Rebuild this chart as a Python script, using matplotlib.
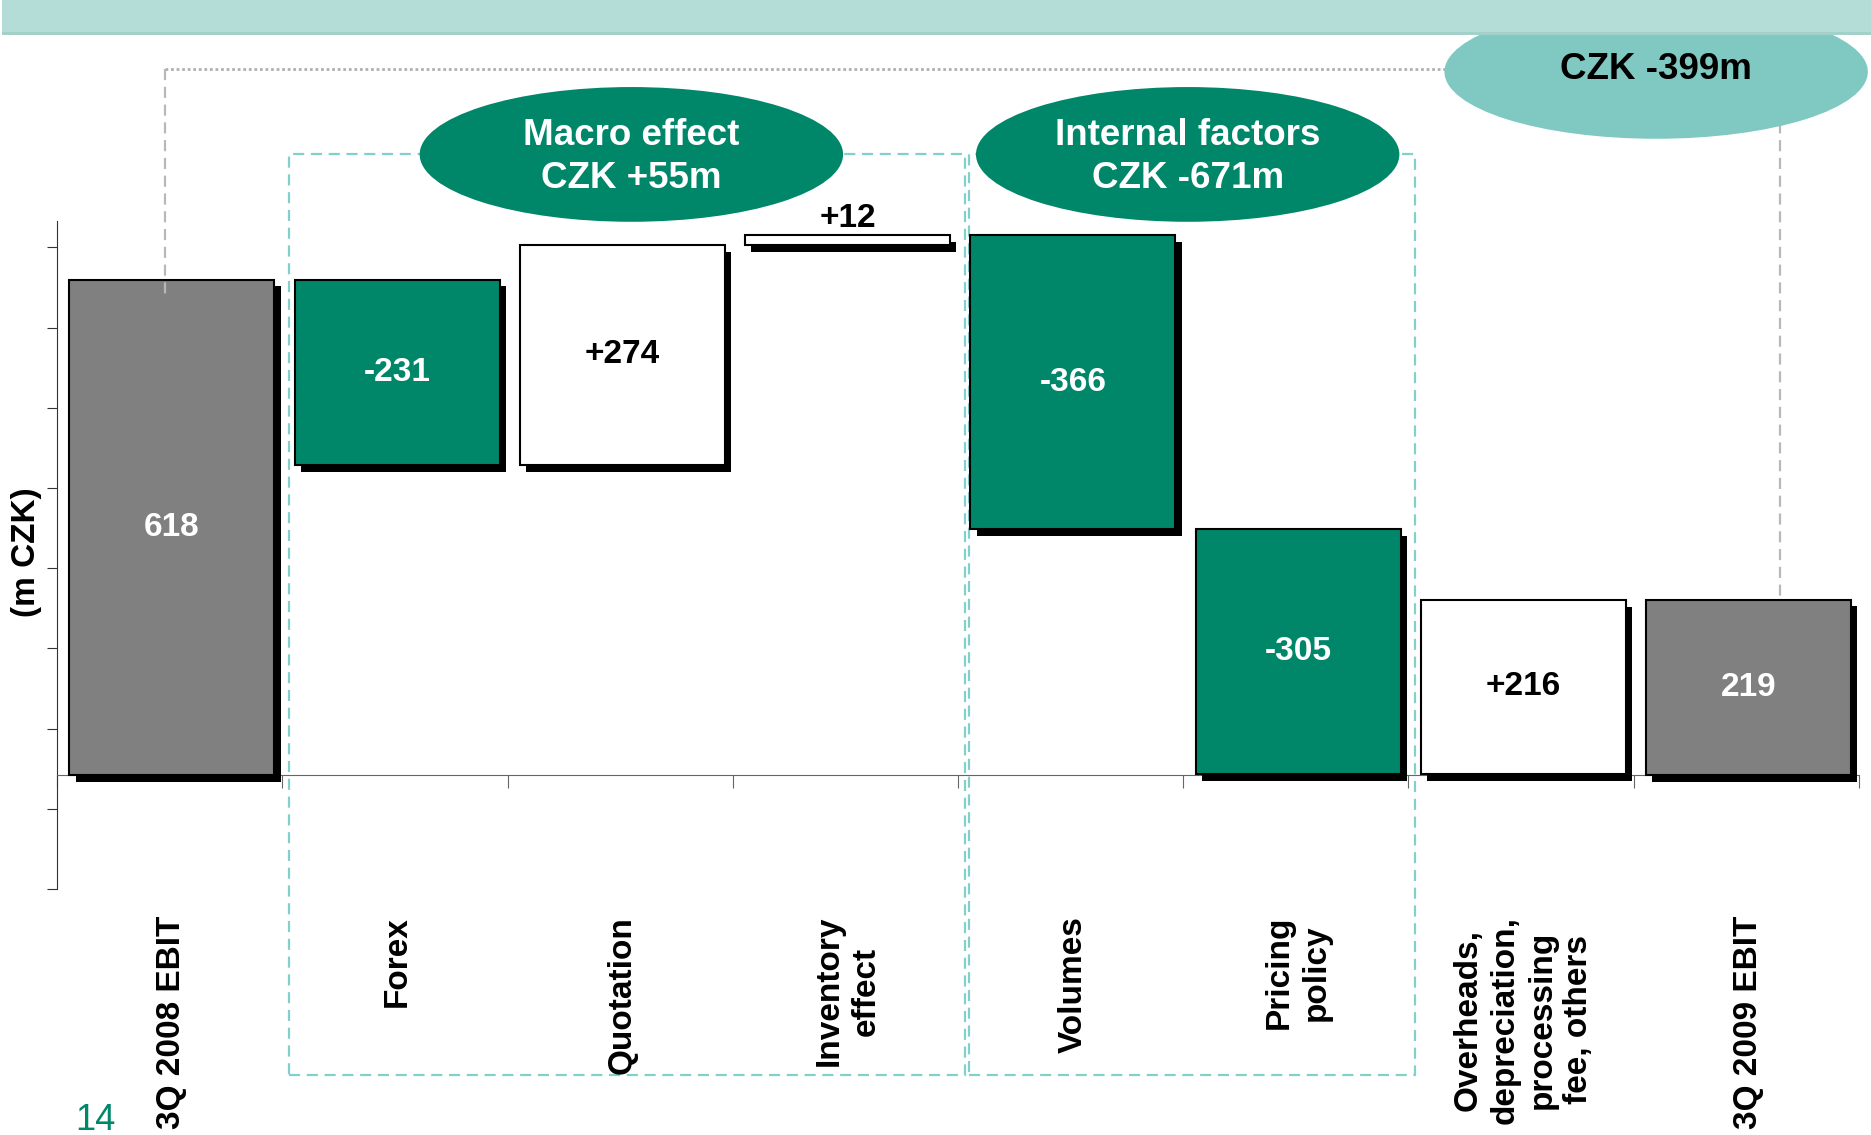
import matplotlib
matplotlib.use("Agg")
import matplotlib.pyplot as plt
import matplotlib.patheffects as pe
from matplotlib import transforms
from matplotlib.patches import Ellipse, Rectangle
import numpy as np

plt.rcParams["font.family"] = ["Liberation Sans", "DejaVu Sans"]

# data (m CZK)
categories = ["3Q 2008 EBIT", "Forex", "Quotation", "Inventory\neffect", "Volumes",
              "Pricing\npolicy", "Overheads,\ndepreciation,\nprocessing\nfee, others", "3Q 2009 EBIT"]
values = [618, -231, 274, 12, -366, -305, 216, 219]
is_total = [True, False, False, False, False, False, False, True]

group_labels = ["Macro effect\nCZK +55m", "Internal factors\nCZK -671m"]
total_change_label = "CZK -399m"
y_axis_label = "(m CZK)"
page_number = "14"

GREEN = "#00876a"
GRAY = "#808080"
TEAL_LIGHT = "#80c9c3"
BANNER = "#b3ddd6"
BOX_TEAL = "#82d0cb"


def bar_bottoms():
    """Where each bar of the waterfall starts."""
    bottoms, heights = [], []
    running = 0
    for v, tot in zip(values, is_total):
        if tot:
            bottoms.append(0)
            heights.append(v)
            running = v
        else:
            bottoms.append(running if v > 0 else running + v)
            heights.append(abs(v))
            running += v
    return np.array(bottoms), np.array(heights)


def plot_waterfall():
    fig = plt.figure(figsize=(18.71, 11.35), dpi=100)
    ax = fig.add_axes([0.0305, 0.2167, 0.963, 0.5886])

    # top banner
    fig.patches.append(Rectangle((0.001, 0.971), 0.999, 0.029, transform=fig.transFigure,
                                 facecolor=BANNER, edgecolor="none", zorder=0))
    fig.patches.append(Rectangle((0.001, 0.969), 0.999, 0.003, transform=fig.transFigure,
                                 facecolor="#a3d0c9", edgecolor="none", zorder=0))

    x = np.arange(len(categories))
    bottoms, heights = bar_bottoms()
    colors = []
    for v, tot in zip(values, is_total):
        colors.append(GRAY if tot else (GREEN if v < 0 else "white"))

    shadow = [pe.SimplePatchShadow(offset=(4.5, -5), shadow_rgbFace="black", alpha=1.0), pe.Normal()]
    bars = ax.bar(x, heights, bottom=bottoms, width=0.91, color=colors,
                  edgecolor="black", linewidth=1.5, zorder=3)
    for b in bars:
        b.set_path_effects(shadow)

    # value labels
    for xi, b0, h, v, tot, c in zip(x, bottoms, heights, values, is_total, colors):
        txt = f"{v}" if tot else f"{v:+d}"
        tc = "black" if c == "white" else "white"
        if h < 40:
            ax.text(xi, b0 + h + 2, txt, ha="center", va="bottom", fontsize=24,
                    fontweight="bold", color="black", zorder=5)
        else:
            ax.text(xi, b0 + h / 2, txt, ha="center", va="center", fontsize=24,
                    fontweight="bold", color=tc, zorder=5)

    ax.set_xlim(-0.51, len(categories) - 0.51)
    ax.set_ylim(-141, 691)

    # axes styling
    for s in ["top", "right"]:
        ax.spines[s].set_visible(False)
    ax.spines["bottom"].set_position(("data", 0))
    ax.spines["bottom"].set_color("#666666")
    ax.spines["left"].set_color("#333333")
    ax.set_xticks(np.arange(-0.51, len(categories), 1.0))
    ax.set_xticklabels([])
    ax.tick_params(axis="x", direction="out", length=9, color="#666666")
    ax.set_yticks([-142, -42, 58, 158, 258, 358, 458, 558, 658])
    ax.set_yticklabels([])
    ax.tick_params(axis="y", direction="out", length=7, color="#333333")

    # category labels below the chart
    trans = transforms.blended_transform_factory(ax.transData, fig.transFigure)
    for xi, name in zip(x, categories):
        ax.text(xi, 0.193, name, transform=trans, rotation=90, ha="center", va="top",
                multialignment="center", fontsize=24, fontweight="bold", linespacing=1.25)

    fig.text(26 / 1871, 1 - 552 / 1135, y_axis_label, rotation=90, ha="center", va="center",
             fontsize=24, fontweight="bold")

    # dashed group boxes
    for x0, x1 in [(0.52, 3.52), (3.54, 5.52)]:
        ax.add_patch(Rectangle((x0, -374), x1 - x0, 774 + 374, fill=False, edgecolor=BOX_TEAL,
                               linewidth=1.6, linestyle=(0, (5, 3)), clip_on=False, zorder=1))

    # gray connectors for total change
    ax.plot([-0.03, 7.14], [880, 880], color="#b0b0b0", lw=2, linestyle=(0, (1, 1)),
            clip_on=False, zorder=1)
    ax.plot([-0.03, -0.03], [880, 596], color="#b8b8b8", lw=1.6, linestyle=(0, (5, 3)),
            clip_on=False, zorder=4)
    ax.plot([7.14, 7.14], [880, 223], color="#b8b8b8", lw=1.6, linestyle=(0, (5, 3)),
            clip_on=False, zorder=1)

    # ellipses with summaries
    for cx, label in zip([2.04, 4.51], group_labels):
        ax.add_patch(Ellipse((cx, 774), 1.88, 168, facecolor=GREEN, edgecolor="none",
                             clip_on=False, zorder=6))
        ax.text(cx, 771, label, ha="center", va="center", fontsize=26.5, fontweight="bold",
                color="white", linespacing=1.3, zorder=7)
    ax.add_patch(Ellipse((6.59, 877), 1.88, 167, facecolor=TEAL_LIGHT, edgecolor="none",
                         clip_on=False, zorder=6))
    ax.text(6.59, 880, total_change_label, ha="center", va="center", fontsize=26.5,
            fontweight="bold", color="black", zorder=7)

    fig.text(0.040, 5 / 1135, page_number, ha="left", va="baseline", fontsize=26, color=GREEN)

    fig.savefig("out.png", dpi=100)
    plt.close(fig)


if __name__ == "__main__":
    plot_waterfall()
